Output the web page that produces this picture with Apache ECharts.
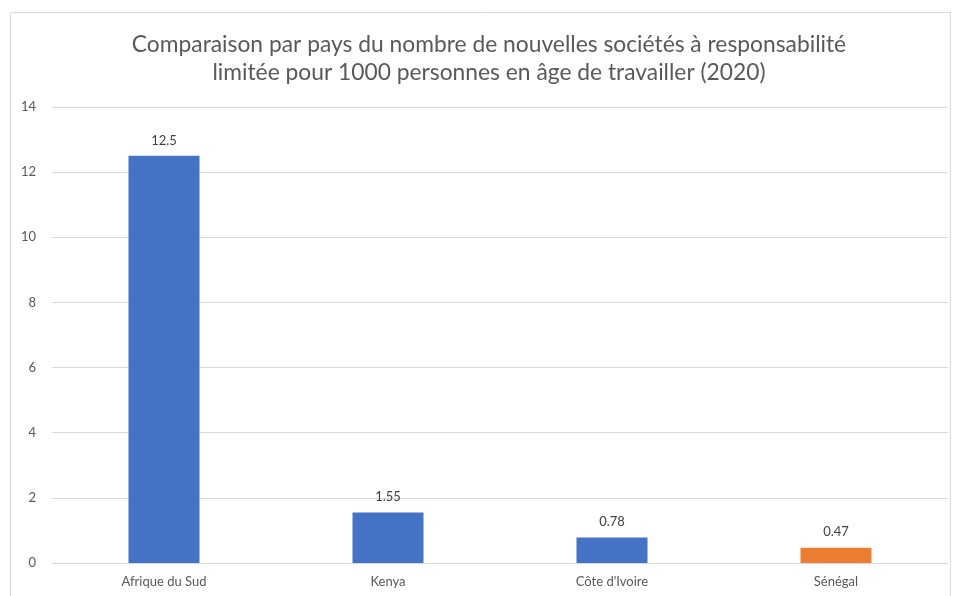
<!DOCTYPE html>
<html>
<head>
<meta charset="utf-8">
<script src="https://cdn.jsdelivr.net/npm/echarts@6/dist/echarts.min.js"></script>
<style>
  html, body { margin: 0; padding: 0; background: #fff; }
  #chart { width: 954px; height: 596px; }
</style>
</head>
<body>
<div id="chart"></div>
<script>
// Countries compared
const countries = ['Afrique du Sud', 'Kenya', "Côte d'Ivoire", 'Sénégal'];
// New LLCs per 1000 working-age people (2020)
const newLlcDensity = [12.5, 1.55, 0.78, 0.47];
// Bar colours: Senegal highlighted
const barColors = ['#4472C4', '#4472C4', '#4472C4', '#ED7D31'];
// Value axis ticks
const yTicks = [0, 2, 4, 6, 8, 10, 12, 14];

const font = 'Lato, "Open Sans", sans-serif';
const chart = echarts.init(document.getElementById('chart'), null, { renderer: 'canvas' });

chart.setOption({
  backgroundColor: '#ffffff',
  animation: false,
  title: {
    text: 'Comparaison par pays du nombre de nouvelles sociétés à responsabilité\nlimitée pour 1000 personnes en âge de travailler (2020)',
    left: 484,
    textAlign: 'center',
    top: 26,
    textStyle: {
      fontFamily: font,
      fontSize: 22.8,
      fontWeight: 'normal',
      color: '#595959',
      lineHeight: 28
    }
  },
  graphic: [{
    type: 'rect',
    shape: { x: 10.5, y: 12.5, width: 940, height: 600 },
    style: { fill: 'none', stroke: '#D9D9D9', lineWidth: 1 },
    silent: true
  }],
  grid: { left: 52, right: 6, top: 107, bottom: 33, containLabel: false },
  xAxis: {
    type: 'category',
    data: countries,
    axisLine: { show: true, lineStyle: { color: '#D9D9D9', width: 1 } },
    axisTick: { show: false },
    axisLabel: { fontFamily: font, fontSize: 13, color: '#595959', margin: 12 }
  },
  yAxis: {
    type: 'value',
    min: yTicks[0],
    max: yTicks[yTicks.length - 1],
    interval: 2,
    axisLine: { show: false },
    axisTick: { show: false },
    splitLine: { lineStyle: { color: '#D9D9D9', width: 1 } },
    axisLabel: { fontFamily: font, fontSize: 13, color: '#595959', margin: 16 }
  },
  series: [{
    type: 'bar',
    data: newLlcDensity.map((v, i) => ({ value: v, itemStyle: { color: barColors[i] } })),
    barWidth: 71,
    label: {
      show: true,
      position: 'top',
      distance: 9,
      fontFamily: font,
      fontSize: 13,
      color: '#404040',
      formatter: p => String(p.value)
    }
  }]
});
</script>
</body>
</html>
